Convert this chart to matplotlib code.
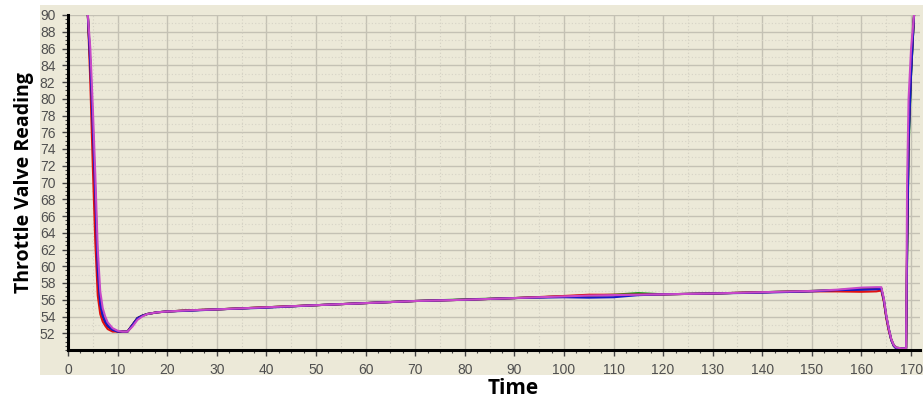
import matplotlib
matplotlib.use("Agg")
import matplotlib.pyplot as plt
from matplotlib.patches import Rectangle
from matplotlib.ticker import MultipleLocator

# ---- data ----
time = [4.0, 4.5, 5.0, 5.5, 6.0, 6.5, 7.0, 7.5, 8.0, 9.0, 10.0, 11.0, 12.0,
        13.0, 14.0, 15.0, 16.0, 18.0, 20.0, 25, 30, 40, 50, 60, 70, 80, 90,
        100, 105, 110, 115, 120, 130, 140, 150, 155, 160, 163, 164, 164.5,
        165, 165.5, 166, 166.5, 167, 168, 169, 169.2, 169.5, 170, 170.6]

green = [90, 84.5, 77, 69, 60, 55.8, 54.3, 53.5, 53.0, 52.5, 52.2, 52.2, 52.2,
         53.0, 53.8, 54.1, 54.3, 54.5, 54.6, 54.75, 54.85, 55.1, 55.35, 55.6,
         55.85, 56.05, 56.2, 56.4, 56.5, 56.6, 56.8, 56.65, 56.75, 56.9, 57.05,
         57.15, 57.25, 57.3, 57.35, 56.0, 54.0, 52.5, 51.2, 50.5, 50.2, 50.2,
         50.2, 61, 74, 83, 90]
black = [90, 84, 76, 68, 59, 55.3, 54.0, 53.3, 52.8, 52.4, 52.2, 52.2, 52.2,
         53.0, 53.8, 54.1, 54.3, 54.5, 54.6, 54.75, 54.85, 55.1, 55.35, 55.6,
         55.85, 56.0, 56.2, 56.4, 56.5, 56.55, 56.6, 56.65, 56.75, 56.9, 57.05,
         57.15, 57.25, 57.3, 57.35, 56.0, 54.0, 52.5, 51.3, 50.6, 50.3, 50.2,
         50.2, 62, 75, 83, 90]
red = [90, 82, 72, 63, 56.5, 54.3, 53.4, 52.9, 52.5, 52.2, 52.2, 52.2, 52.2,
       53.0, 53.8, 54.1, 54.3, 54.5, 54.6, 54.75, 54.85, 55.1, 55.35, 55.6,
       55.85, 56.0, 56.2, 56.45, 56.6, 56.6, 56.6, 56.65, 56.75, 56.9, 57.0,
       57.0, 56.95, 57.0, 57.1, 55.8, 53.8, 52.3, 51.2, 50.5, 50.2, 50.2,
       50.2, 63, 76, 84, 90]
blue = [90, 84, 76.5, 68.5, 59.5, 55.5, 54.1, 53.4, 52.9, 52.4, 52.2, 52.2, 52.2,
        53.0, 53.8, 54.1, 54.3, 54.5, 54.6, 54.7, 54.85, 55.05, 55.35, 55.6,
        55.85, 56.0, 56.2, 56.3, 56.25, 56.3, 56.55, 56.65, 56.75, 56.85, 57.0,
        57.15, 57.2, 57.25, 57.3, 56.0, 54.0, 52.5, 51.2, 50.5, 50.2, 50.2,
        50.2, 62, 75, 83, 90]
magenta = [90, 86, 79, 71, 62, 57, 55, 54, 53.3, 52.6, 52.3, 52.2, 52.2,
           52.8, 53.6, 54.0, 54.3, 54.5, 54.6, 54.75, 54.85, 55.1, 55.35, 55.6,
           55.85, 56.0, 56.2, 56.4, 56.5, 56.55, 56.6, 56.65, 56.75, 56.9, 57.05,
           57.2, 57.45, 57.5, 57.5, 56.2, 54.2, 52.6, 51.3, 50.6, 50.3, 50.2,
           50.2, 70, 80, 86, 90]

series = [("green", green, "#1a9e1a"), ("black", black, "#202020"),
          ("red", red, "#e01010"), ("blue", blue, "#1818c8"),
          ("magenta", magenta, "#c848c8")]

x_ticks = list(range(0, 171, 10))
y_ticks = list(range(52, 91, 2))

# ---- figure ----
W, H = 923, 400
fig = plt.figure(figsize=(W / 100, H / 100), dpi=100)
fig.patch.set_facecolor("white")
bg = "#ECE9D8"
fig.patches.append(Rectangle((40 / W, (H - 375) / H), (W - 40) / W, 370 / H,
                             transform=fig.transFigure, facecolor=bg,
                             edgecolor="none", zorder=-10))

ax = fig.add_axes([68 / W, (H - 350) / H, (920 - 68) / W, (350 - 15) / H])
ax.set_zorder(1)
ax.set_facecolor(bg)

for name, vals, col in series:
    ax.plot(time, vals, color=col, lw=1.5, solid_joinstyle="round", zorder=3)

ax.set_xlim(0, 171.8)
ax.set_ylim(50, 90)
ax.set_xticks(x_ticks)
ax.set_yticks(y_ticks)
ax.xaxis.set_minor_locator(MultipleLocator(2.5))
ax.yaxis.set_minor_locator(MultipleLocator(0.5))

ax.grid(which="major", color="#C4C1B4", lw=1.0, zorder=1)
ax.set_axisbelow(True)
for v in range(5, 171, 10):
    ax.axvline(v, color="#D2CFC2", lw=0.8, ls=(0, (1, 2)), zorder=1)
for v in range(53, 90, 2):
    ax.axhline(v, color="#D6D3C6", lw=0.8, ls=(0, (1, 2)), zorder=1)

for s in ("top", "right"):
    ax.spines[s].set_visible(False)
for s in ("left", "bottom"):
    ax.spines[s].set_linewidth(2.2)
    ax.spines[s].set_color("black")
    ax.spines[s].set_zorder(4)

tick_font = ["Liberation Sans Narrow", "Liberation Sans", "DejaVu Sans"]
ax.tick_params(axis="both", which="major", length=4, width=1, color="#444444",
               labelsize=10, labelcolor="#505050", pad=5)
ax.tick_params(axis="both", which="minor", length=2.5, width=0.8, color="#444444")
for lab in ax.get_xticklabels() + ax.get_yticklabels():
    lab.set_fontfamily(tick_font)

label_font = ["Open Sans", "DejaVu Sans"]
ax.set_xlabel("Time", fontsize=15, fontweight="bold", family=label_font)
ax.xaxis.set_label_coords((513 - 68) / 852, -(378 - 350) / 335)
ax.set_ylabel("Throttle Valve Reading", fontsize=14, fontweight="bold",
              family=label_font, labelpad=4)

fig.savefig("out.png", dpi=100, facecolor="white")
